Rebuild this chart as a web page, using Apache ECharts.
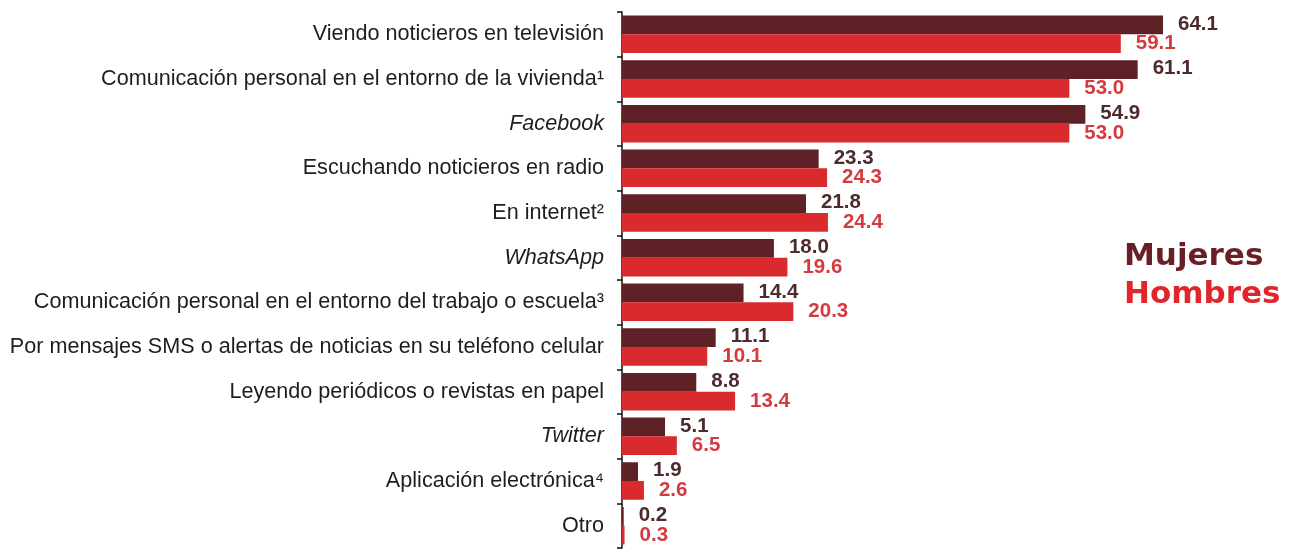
<!DOCTYPE html>
<html>
<head>
<meta charset="utf-8">
<script src="https://cdn.jsdelivr.net/npm/echarts@6/dist/echarts.min.js"></script>
<style>html,body{margin:0;padding:0;background:#fff}#c{width:1289px;height:552px}</style>
</head>
<body>
<div id="c"></div>
<script>
const categories = [
  "Viendo noticieros en televisión",
  "Comunicación personal en el entorno de la vivienda¹",
  "Facebook",
  "Escuchando noticieros en radio",
  "En internet²",
  "WhatsApp",
  "Comunicación personal en el entorno del trabajo o escuela³",
  "Por mensajes SMS o alertas de noticias en su teléfono celular",
  "Leyendo periódicos o revistas en papel",
  "Twitter",
  "Aplicación electrónica⁴",
  "Otro"
];
const italicCategories = ["Facebook", "WhatsApp", "Twitter"];
const mujeres = [64.1, 61.1, 54.9, 23.3, 21.8, 18.0, 14.4, 11.1, 8.8, 5.1, 1.9, 0.2];
const hombres = [59.1, 53.0, 53.0, 24.3, 24.4, 19.6, 20.3, 10.1, 13.4, 6.5, 2.6, 0.3];
const seriesNames = ["Mujeres", "Hombres"];

const cMujBar = '#5e2125', cHomBar = '#d92b2e';
const cMujLbl = '#4d2a2c', cHomLbl = '#d43a3e';
const fam = 'Liberation Sans, Arial, sans-serif';

const chart = echarts.init(document.getElementById('c'));
chart.setOption({
  animation: false,
  backgroundColor: '#fff',
  grid: { left: 622, right: 34, top: 12, bottom: 4, containLabel: false },
  legend: {
    orient: 'vertical',
    left: 1114,
    top: 236,
    icon: 'none',
    itemWidth: 0,
    itemHeight: 31,
    itemGap: 7,
    selectedMode: false,
    textStyle: { fontFamily: 'DejaVu Sans', fontWeight: 'bold', fontSize: 31 },
    data: [
      { name: seriesNames[0], textStyle: { color: '#6a1f24' } },
      { name: seriesNames[1], textStyle: { color: '#e0262b' } }
    ]
  },
  xAxis: {
    type: 'value', min: 0, max: 75,
    show: false
  },
  yAxis: {
    type: 'category',
    inverse: true,
    data: categories,
    axisLine: { show: true, lineStyle: { color: '#111', width: 1.5 } },
    axisTick: { show: true, length: 5, lineStyle: { color: '#111', width: 1.5 } },
    axisLabel: {
      margin: 18,
      fontFamily: fam,
      fontSize: 21.6,
      color: '#1e1e1e',
      formatter: function (v) {
        return italicCategories.indexOf(v) >= 0 ? '{i|' + v + '}' : v;
      },
      rich: { i: { fontStyle: 'italic', fontSize: 21.6, color: '#1e1e1e', fontFamily: fam } }
    }
  },
  series: [
    {
      name: seriesNames[0], type: 'bar', data: mujeres,
      barGap: '0%', barCategoryGap: '16%',
      itemStyle: { color: cMujBar },
      label: {
        show: true, position: 'right', distance: 15, offset: [0, -1],
        fontFamily: fam, fontWeight: 'bold', fontSize: 20.5,
        color: cMujLbl,
        formatter: p => p.value.toFixed(1)
      }
    },
    {
      name: seriesNames[1], type: 'bar', data: hombres,
      itemStyle: { color: cHomBar },
      label: {
        show: true, position: 'right', distance: 15,
        fontFamily: fam, fontWeight: 'bold', fontSize: 20.5,
        color: cHomLbl,
        formatter: p => p.value.toFixed(1)
      }
    }
  ]
});
</script>
</body>
</html>
